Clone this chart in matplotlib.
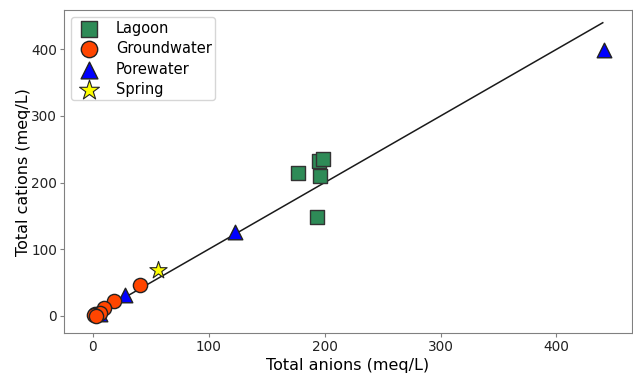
import matplotlib
matplotlib.use("Agg")
import matplotlib.pyplot as plt
import numpy as np

plt.rcParams['font.family'] = ['DejaVu Sans Condensed', 'DejaVu Sans']

# anions, cations (meq/L)
lagoon_an = [177, 195, 199, 196, 193]
lagoon_cat = [215, 233, 236, 210, 148]

ground_an = [41, 18, 10, 2, 4, 6, 1, 3]
ground_cat = [46, 22, 12, 3, 2, 4, 1, 0]

pore_an = [441, 123, 28, 6]
pore_cat = [399, 126, 31, 3]

spring_an = [56]
spring_cat = [68]

line_x = [0, 440]

fig, ax = plt.subplots(figsize=(6.33, 3.73), dpi=100)

ax.plot(line_x, line_x, color='#1a1a1a', lw=1.1, zorder=1)
ax.scatter(lagoon_an, lagoon_cat, marker='s', s=95, c='#2e8b57', edgecolors='#333333', linewidths=1, label='Lagoon', zorder=3)
ax.scatter(pore_an, pore_cat, marker='^', s=110, c='#0000ff', edgecolors='#222222', linewidths=1, label='Porewater', zorder=2)
ax.scatter(ground_an, ground_cat, marker='o', s=105, c='#ff4500', edgecolors='#222222', linewidths=1, label='Groundwater', zorder=3)
ax.scatter(spring_an, spring_cat, marker='*', s=170, c='#ffff00', edgecolors='#222222', linewidths=0.8, label='Spring', zorder=3)

handles, labels = ax.get_legend_handles_labels()
order = [labels.index(n) for n in ['Lagoon', 'Groundwater', 'Porewater', 'Spring']]
ax.legend([handles[i] for i in order], [labels[i] for i in order], loc='upper left',
          fontsize=10.5, markerscale=1.15, handletextpad=0.8, borderpad=0.25,
          labelspacing=0.36, edgecolor='#cccccc')

ax.set_xlim(-25, 465)
ax.set_ylim(-26, 459)
ax.set_xticks([0, 100, 200, 300, 400])
ax.set_yticks([0, 100, 200, 300, 400])
ax.tick_params(labelsize=9.8, length=3, pad=2, color='#808080', labelcolor='#222222')
for sp in ax.spines.values():
    sp.set_color('#808080')
ax.set_xlabel('Total anions (meq/L)', fontsize=11.5, labelpad=3)
ax.set_ylabel('Total cations (meq/L)', fontsize=11.5, labelpad=0)

plt.subplots_adjust(left=0.101, right=0.998, top=0.973, bottom=0.107)
fig.savefig('out.png', dpi=100)
